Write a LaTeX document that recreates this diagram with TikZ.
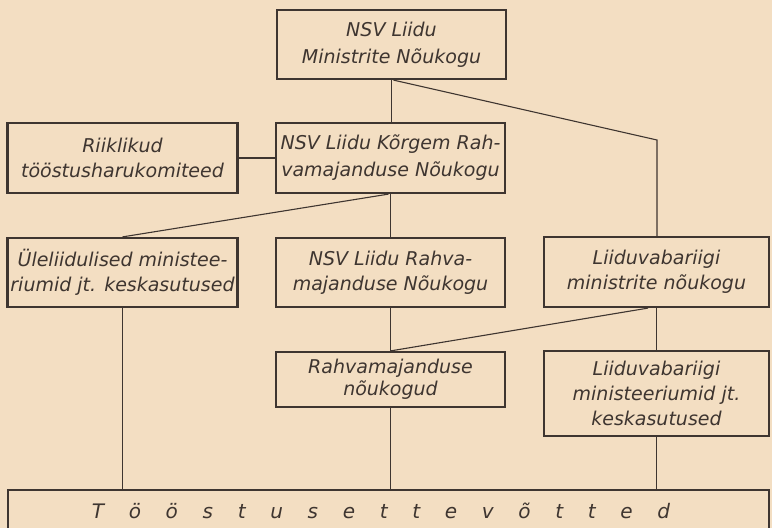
\documentclass[tikz,border=0pt]{standalone}
\usepackage{fontspec}
\setmainfont{DejaVu Sans}
\definecolor{paper}{RGB}{243,222,194}
\definecolor{ink}{RGB}{62,53,48}
\begin{document}
\begin{tikzpicture}[x=1pt,y=-1pt,
  box/.style={draw=ink, line width=2.2pt, inner sep=0pt, align=center, text=ink,
    font=\fontsize{19}{25}\selectfont\itshape},
  tight/.style={font=\fontsize{19}{22}\selectfont\itshape},
  wide/.style={font=\fontsize{19}{27}\selectfont\itshape},
  link/.style={draw=ink, line width=1.1pt}]
\useasboundingbox (0,0) rectangle (772,528);
\fill[paper] (0,0) rectangle (772,528);
\clip (0,0) rectangle (772,528);

\node[box, wide, minimum width=229pt, minimum height=69pt] (top) at (391.5,44.5)
  {NSV Liidu\\Ministrite Nõukogu};
\node[box, minimum width=230pt, minimum height=70pt] (riik) at (122.5,158)
  {Riiklikud\\tööstusharukomiteed};
\node[box, wide, minimum width=229pt, minimum height=70pt] (mid) at (390.5,158)
  {NSV Liidu Kõrgem Rah-\\vamajanduse Nõukogu};
\node[box, minimum width=230pt, minimum height=69pt] (ule) at (122.5,272.5)
  {Üleliidulised ministee-\\riumid jt. keskasutused};
\node[box, minimum width=229pt, minimum height=69pt] (nsvr) at (390.5,272.5)
  {NSV Liidu Rahva-\\majanduse Nõukogu};
\node[box, minimum width=225pt, minimum height=70pt] (lvm) at (656.5,272)
  {Liiduvabariigi\\ministrite nõukogu};
\node[box, tight, minimum width=229pt, minimum height=55pt] (rahv) at (390.5,379.5)
  {Rahvamajanduse\\nõukogud};
\node[box, minimum width=225pt, minimum height=85pt] (lvmin) at (656.5,393.5)
  {Liiduvabariigi\\ministeeriumid jt.\\keskasutused};
\node[box, minimum width=761pt, minimum height=42pt,
  font=\fontsize{20}{24}\selectfont\itshape] (bot) at (388.5,511)
  {\spaceskip=24.7pt\relax T ö ö s t u s e t t e v õ t t e d\kern15pt};

\coordinate (bend) at (657,140);
\draw[link] (top.south) -- (top.south |- mid.north);
\draw[link] ([xshift=2pt]top.south) -- (bend) -- (bend |- lvm.north);
\draw[link] (riik.east) -- (mid.west);
\draw[link] ([xshift=-2pt]mid.south) -- (ule.north);
\draw[link] (mid.south) -- (mid.south |- nsvr.north);
\draw[link] (nsvr.south) -- (nsvr.south |- rahv.north);
\draw[link] ([xshift=-8.5pt]lvm.south) -- (rahv.north);
\draw[link] (lvm.south) -- (lvmin.north);
\draw[link] (ule.south) -- (ule.south |- bot.north);
\draw[link] (rahv.south) -- (rahv.south |- bot.north);
\draw[link] (lvmin.south) -- (lvmin.south |- bot.north);
\end{tikzpicture}
\end{document}
